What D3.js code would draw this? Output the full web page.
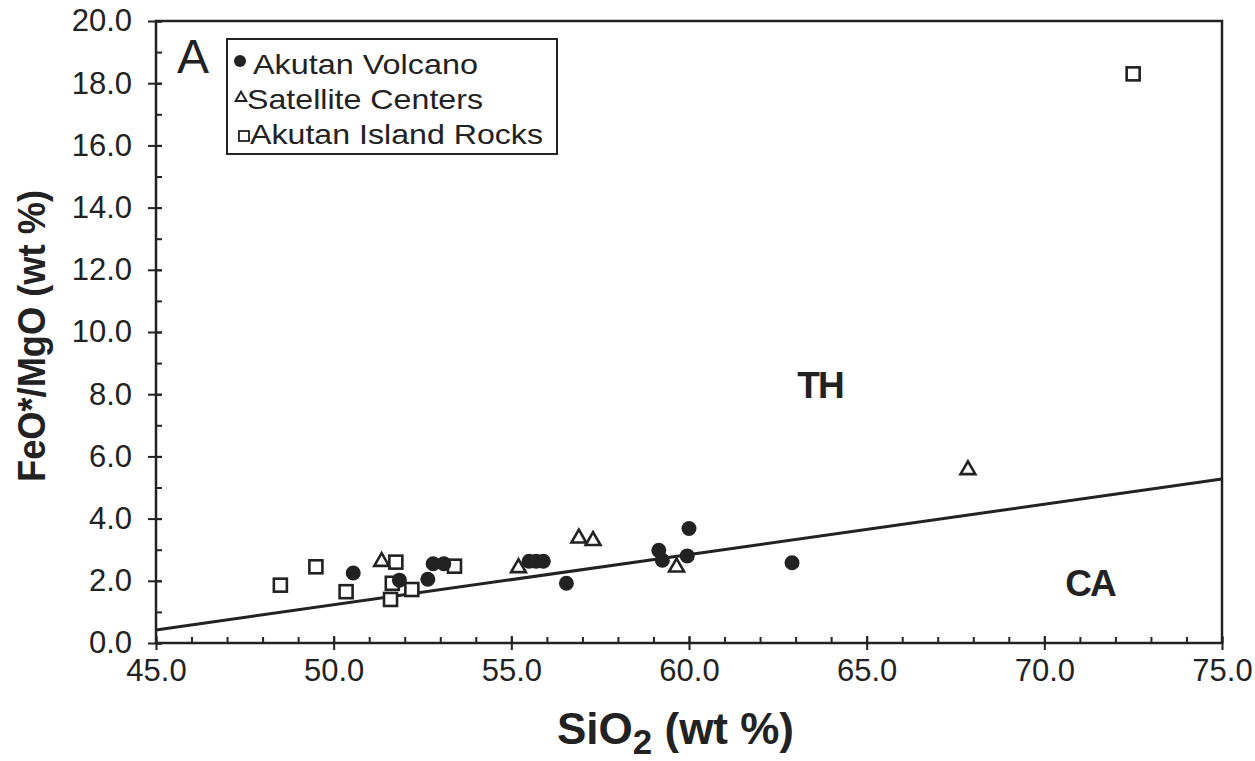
<!DOCTYPE html>
<html>
<head>
<meta charset="utf-8">
<script src="https://cdn.jsdelivr.net/npm/d3@7"></script>
<style>
  body { margin: 0; background: #fff; }
  text { font-family: "Liberation Sans", Arial, Helvetica, sans-serif; fill: #222; }
</style>
</head>
<body>
<svg id="Target" width="1255" height="761"></svg>
<script>
// data
var volcanoX = [50.55, 51.85, 52.65, 52.8, 53.1, 55.5, 55.7, 55.9, 56.55, 59.15, 59.25, 60.0, 59.95, 62.9];
var volcanoY = [2.25, 2.02, 2.05, 2.55, 2.55, 2.63, 2.63, 2.63, 1.92, 2.98, 2.66, 3.68, 2.8, 2.58];
var satelliteX = [51.35, 55.2, 56.9, 57.3, 59.65, 67.85];
var satelliteY = [2.65, 2.45, 3.4, 3.32, 2.47, 5.6];
var rocksX = [48.5, 49.5, 50.35, 51.75, 51.65, 51.6, 52.2, 53.4, 72.5];
var rocksY = [1.86, 2.45, 1.65, 2.6, 1.92, 1.4, 1.72, 2.47, 18.3];
// TH / CA dividing line
var divideX = [45, 75];
var divideY = [0.42, 5.27];
var legendNames = ["Akutan Volcano", "Satellite Centers", "Akutan Island Rocks"];
var xTicks = [45, 50, 55, 60, 65, 70, 75];
var yTicks = [0, 2, 4, 6, 8, 10, 12, 14, 16, 18, 20];

var svg = d3.select("#Target");
var ink = "#222";

var x = d3.scaleLinear().domain([45, 75]).range([156, 1222]);
var y = d3.scaleLinear().domain([0, 20]).range([643, 21]);

// frame
svg.append("rect")
    .attr("x", x(45)).attr("y", y(20))
    .attr("width", x(75) - x(45)).attr("height", y(0) - y(20))
    .attr("fill", "none").attr("stroke", ink).attr("stroke-width", 2.5);

// minor ticks, pointing inward
svg.append("g")
    .attr("transform", "translate(0," + y(0) + ")")
    .call(d3.axisTop(x).tickValues(d3.range(45, 76, 1)).tickSize(6).tickFormat(""))
    .call(function (g) { g.select(".domain").remove(); });
svg.append("g")
    .attr("transform", "translate(" + x(45) + ",0)")
    .call(d3.axisRight(y).tickValues(d3.range(0, 21, 1)).tickSize(6).tickFormat(""))
    .call(function (g) { g.select(".domain").remove(); });

// major ticks with labels, crossing the axis
var xAxis = svg.append("g")
    .attr("transform", "translate(0," + y(0) + ")")
    .call(d3.axisBottom(x).tickValues(xTicks).tickSize(7).tickPadding(9).tickFormat(d3.format(".1f")));
xAxis.select(".domain").remove();
xAxis.selectAll("line").attr("y1", -7);

var yAxis = svg.append("g")
    .attr("transform", "translate(" + x(45) + ",0)")
    .call(d3.axisLeft(y).tickValues(yTicks).tickSize(8).tickPadding(16).tickFormat(d3.format(".1f")));
yAxis.select(".domain").remove();
yAxis.selectAll("line").attr("x1", 6);

svg.selectAll(".tick line").attr("stroke", ink).attr("stroke-width", 2);
svg.selectAll(".tick text").attr("font-size", 31).attr("fill", ink)
    .style("font-family", "'Liberation Sans', Arial, sans-serif");

// axis titles
svg.append("text")
    .attr("transform", "translate(45,336) rotate(-90)")
    .attr("text-anchor", "middle")
    .attr("font-size", 39).attr("font-weight", "bold")
    .attr("textLength", 292).attr("lengthAdjust", "spacingAndGlyphs")
    .text("FeO*/MgO (wt %)");

var xt = svg.append("text")
    .attr("x", 557).attr("y", 744)
    .attr("font-size", 44).attr("font-weight", "bold");
xt.append("tspan").text("SiO");
xt.append("tspan").attr("dy", 10).attr("font-size", 35).text("2");
xt.append("tspan").attr("dy", -10).text(" (wt %)");

// dividing line
var line = d3.line().x(function (d) { return x(d[0]); }).y(function (d) { return y(d[1]); });
svg.append("path")
    .attr("d", line(d3.zip(divideX, divideY)))
    .attr("fill", "none").attr("stroke", ink).attr("stroke-width", 3);

// region labels
svg.append("text").attr("x", 820).attr("y", 398).attr("text-anchor", "middle")
    .attr("font-size", 37).attr("font-weight", "bold").attr("letter-spacing", -2).text("TH");
svg.append("text").attr("x", 1090).attr("y", 596).attr("text-anchor", "middle")
    .attr("font-size", 37).attr("font-weight", "bold").attr("letter-spacing", -2).text("CA");

// symbols
var tri = d3.symbol().type(d3.symbolTriangle);

svg.append("g").selectAll("path")
    .data(d3.zip(rocksX, rocksY))
    .enter().append("rect")
    .attr("x", function (d) { return x(d[0]) - 6.5; })
    .attr("y", function (d) { return y(d[1]) - 6.5; })
    .attr("width", 13).attr("height", 13)
    .attr("fill", "#fff").attr("stroke", ink).attr("stroke-width", 2.6);

svg.append("g").selectAll("path")
    .data(d3.zip(satelliteX, satelliteY))
    .enter().append("path")
    .attr("d", tri.size(95)())
    .attr("transform", function (d) { return "translate(" + x(d[0]) + "," + (y(d[1]) + 1) + ")"; })
    .attr("fill", "#fff").attr("stroke", ink).attr("stroke-width", 2.6);

svg.append("g").selectAll("circle")
    .data(d3.zip(volcanoX, volcanoY))
    .enter().append("circle")
    .attr("cx", function (d) { return x(d[0]); })
    .attr("cy", function (d) { return y(d[1]); })
    .attr("r", 7.5)
    .attr("fill", ink);

// panel letter
svg.append("text").attr("x", 177).attr("y", 73).attr("font-size", 48).text("A");

// legend
svg.append("rect")
    .attr("x", 227).attr("y", 39).attr("width", 330).attr("height", 115)
    .attr("fill", "#fff").attr("stroke", ink).attr("stroke-width", 2);

var legendStartX = [253, 247, 250];
var legendWidth = [225, 236, 293];
legendNames.forEach(function (name, i) {
    svg.append("text")
        .attr("x", legendStartX[i]).attr("y", 74 + i * 35)
        .attr("font-size", 28)
        .attr("textLength", legendWidth[i]).attr("lengthAdjust", "spacingAndGlyphs")
        .text(name);
});
svg.append("circle").attr("cx", 240).attr("cy", 61).attr("r", 6).attr("fill", ink);
svg.append("path").attr("d", tri.size(50)())
    .attr("transform", "translate(241,98)")
    .attr("fill", "#fff").attr("stroke", ink).attr("stroke-width", 2);
svg.append("rect").attr("x", 239).attr("y", 131).attr("width", 10).attr("height", 10)
    .attr("fill", "#fff").attr("stroke", ink).attr("stroke-width", 1.8);
</script>
</body>
</html>
